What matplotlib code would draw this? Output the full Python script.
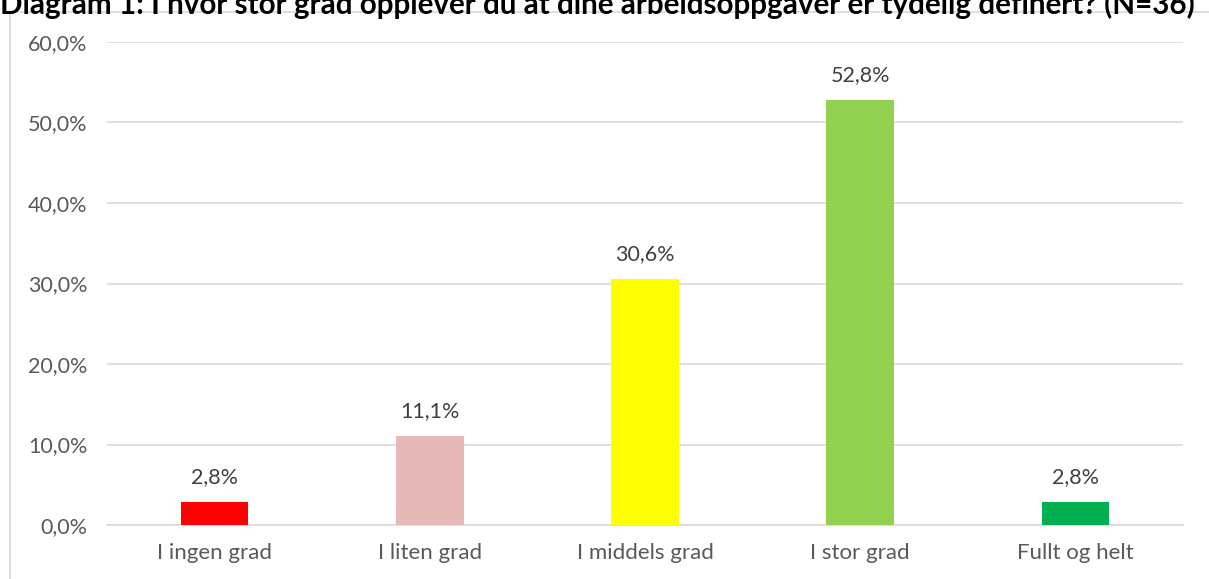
import matplotlib.pyplot as plt
from matplotlib.patches import Rectangle
from matplotlib.ticker import FuncFormatter

categories = ["I ingen grad", "I liten grad", "I middels grad", "I stor grad", "Fullt og helt"]
values = [2.8, 11.1, 30.6, 52.8, 2.8]
colors = ["#FF0000", "#E6B8B7", "#FFFF00", "#92D050", "#00B050"]
title = "Diagram 1: I hvor stor grad opplever du at dine arbeidsoppgaver er tydelig definert? (N=36)"

plt.rcParams["font.family"] = ["Lato", "DejaVu Sans"]

W, H = 1209, 579
fig = plt.figure(figsize=(W / 100, H / 100), dpi=100)

# chart frame (runs off the right and bottom edges)
fig.patches.append(Rectangle((10 / W, -0.1), 1.2, (H - 12) / H + 0.1,
                             transform=fig.transFigure, fill=False,
                             edgecolor="#D9D9D9", linewidth=1.2))

ax = fig.add_axes([107 / W, 1 - 525 / H, (1183 - 107) / W, (525 - 42) / H])

x = range(len(categories))
ax.bar(x, values, width=0.315, color=colors, zorder=3)
for i, v in enumerate(values):
    ax.text(i, v + 3.1, f"{v:.1f}%".replace(".", ","), ha="center", va="center",
            fontsize=15.5, color="#404040")

ax.set_ylim(0, 60)
ax.set_xlim(-0.5, len(categories) - 0.5)
ax.set_yticks(range(0, 61, 10))
ax.yaxis.set_major_formatter(FuncFormatter(lambda v, _: f"{v:.1f}%".replace(".", ",")))
ax.set_xticks(list(x))
ax.set_xticklabels(categories)
ax.tick_params(axis="y", length=0, labelsize=15.5, labelcolor="#595959", pad=14)
ax.tick_params(axis="x", length=0, labelsize=16, labelcolor="#595959", pad=13)
ax.grid(axis="y", color="#D9D9D9", linewidth=1.2, zorder=0)
for s in ["top", "right", "left"]:
    ax.spines[s].set_visible(False)
ax.spines["bottom"].set_color("#D9D9D9")
ax.spines["bottom"].set_linewidth(1.2)

# title sits partly above the top edge of the image
fig.text(0.0, 1 - 14 / H, title, fontsize=21.3, fontweight="bold", color="black",
         ha="left", va="baseline")

fig.savefig("out.png", dpi=100)
